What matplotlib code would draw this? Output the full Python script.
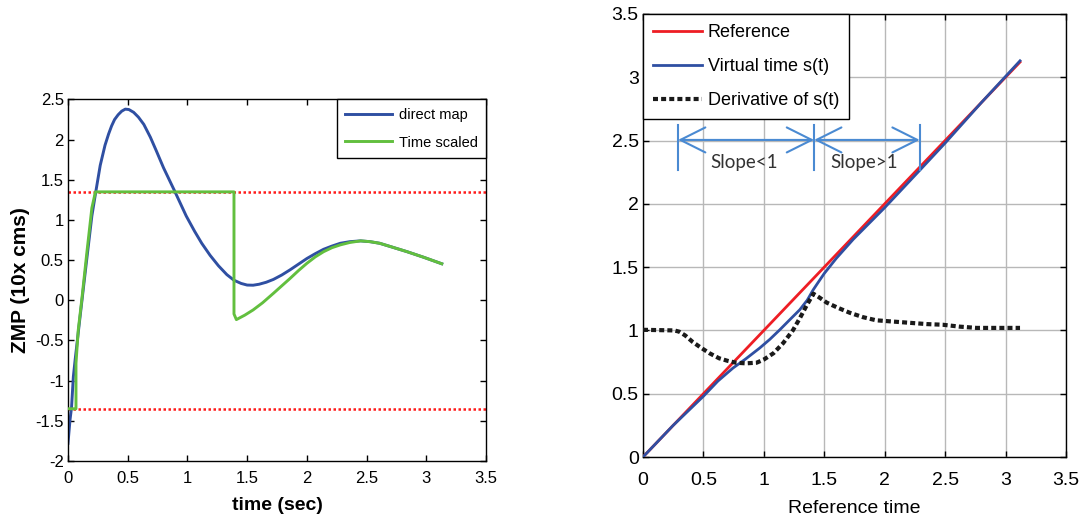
import matplotlib
matplotlib.use("Agg")
import matplotlib.pyplot as plt

# ---- datos panel izquierdo (ZMP) ----
t_direct = [0.0, 0.017, 0.03, 0.045, 0.06, 0.10, 0.15, 0.20, 0.235, 0.27, 0.31, 0.34,
            0.365, 0.39, 0.42, 0.45, 0.48, 0.51, 0.55, 0.59, 0.635, 0.69, 0.74, 0.80,
            0.89, 0.99, 1.06, 1.12, 1.19, 1.26, 1.33, 1.39, 1.45, 1.50, 1.55, 1.60,
            1.66, 1.72, 1.79, 1.86, 1.93, 2.00, 2.07, 2.14, 2.21, 2.28, 2.36, 2.45,
            2.53, 2.61, 2.72, 2.84, 2.98, 3.13]
zmp_direct = [-1.78, -1.49, -1.33, -0.95, -0.74, -0.22, 0.42, 1.05, 1.37, 1.68, 1.93, 2.07,
              2.17, 2.25, 2.31, 2.355, 2.38, 2.375, 2.34, 2.28, 2.19, 2.03, 1.86, 1.65,
              1.37, 1.05, 0.86, 0.71, 0.56, 0.43, 0.32, 0.25, 0.21, 0.19, 0.188, 0.20,
              0.225, 0.26, 0.315, 0.38, 0.45, 0.52, 0.58, 0.635, 0.675, 0.71, 0.73, 0.74,
              0.73, 0.71, 0.66, 0.605, 0.535, 0.455]

t_scaled = [0.0, 0.067, 0.067, 0.086, 0.115, 0.16, 0.20, 0.23, 1.39, 1.39, 1.41, 1.48,
            1.55, 1.63, 1.72, 1.79, 1.86, 1.93, 2.00, 2.07, 2.14, 2.21, 2.28, 2.36,
            2.45, 2.53, 2.61, 2.72, 2.84, 2.98, 3.13]
zmp_scaled = [-1.35, -1.35, -0.785, -0.37, 0.0, 0.62, 1.15, 1.35, 1.35, -0.17, -0.24, -0.185,
              -0.12, -0.03, 0.087, 0.18, 0.273, 0.37, 0.46, 0.54, 0.605, 0.655, 0.69, 0.72,
              0.74, 0.73, 0.71, 0.66, 0.605, 0.535, 0.455]

zmp_limits = [1.35, -1.35]

# ---- datos panel derecho (tiempo virtual) ----
t_ref = [0.0, 3.12]
s_ref = [0.0, 3.12]

t_virtual = [0.0, 0.25, 0.50, 0.62, 0.745, 0.85, 0.966, 1.05, 1.132, 1.21, 1.297, 1.36,
             1.408, 1.45, 1.50, 1.60, 1.74, 2.00, 2.29, 2.50, 2.80, 3.12]
s_virtual = [0.0, 0.25, 0.48, 0.60, 0.703, 0.775, 0.861, 0.93, 1.005, 1.08, 1.163, 1.24,
             1.32, 1.38, 1.45, 1.57, 1.72, 1.97, 2.265, 2.48, 2.80, 3.13]

t_deriv = [0.0, 0.26, 0.30, 0.35, 0.41, 0.47, 0.55, 0.63, 0.70, 0.77, 0.85, 0.94,
           1.00, 1.08, 1.16, 1.24, 1.30, 1.35, 1.41, 1.46, 1.52, 1.61, 1.71, 1.82,
           1.93, 2.07, 2.21, 2.35, 2.48, 2.62, 2.76, 3.12]
ds_deriv = [1.005, 1.0, 0.99, 0.96, 0.91, 0.87, 0.82, 0.78, 0.76, 0.745, 0.74, 0.745,
            0.77, 0.82, 0.90, 1.0, 1.10, 1.19, 1.29, 1.26, 1.22, 1.18, 1.14, 1.105,
            1.08, 1.07, 1.06, 1.05, 1.045, 1.03, 1.02, 1.02]

slope_marks = [0.29, 1.416, 2.29]
slope_labels = ["Slope<1", "Slope>1"]

ticks_05 = [0, 0.5, 1, 1.5, 2, 2.5, 3, 3.5]
tick_labels = ["0", "0.5", "1", "1.5", "2", "2.5", "3", "3.5"]
y_ticks_left = [-2, -1.5, -1, -0.5, 0, 0.5, 1, 1.5, 2, 2.5]
y_labels_left = ["-2", "-1.5", "-1", "-0.5", "0", "0.5", "1", "1.5", "2", "2.5"]

BLUE = "#2f4fa2"
GREEN = "#62bf3e"
RED = "#ee1d24"
ARROW = "#4a8ad2"

plt.rcParams["font.family"] = ["Liberation Sans", "DejaVu Sans"]

fig = plt.figure(figsize=(10.79, 5.22), dpi=100)

# ===== panel izquierdo =====
ax1 = fig.add_axes([0.0630, 0.1169, 0.3874, 0.6925])
for y in zmp_limits:
    ax1.axhline(y, color="#ff1a1a", lw=1.8, linestyle=(0, (1, 1)), zorder=1)
ax1.plot(t_direct, zmp_direct, color=BLUE, lw=2.1, label="direct map", zorder=2)
ax1.plot(t_scaled, zmp_scaled, color=GREEN, lw=2.1, label="Time scaled", zorder=3)

ax1.set_xlim(0, 3.5)
ax1.set_ylim(-2, 2.5)
ax1.set_xticks(ticks_05)
ax1.set_xticklabels(tick_labels)
ax1.set_yticks(y_ticks_left)
ax1.set_yticklabels(y_labels_left)
ax1.tick_params(direction="in", top=True, right=True, length=4, width=1,
                labelsize=12, pad=7)
ax1.tick_params(axis="y", pad=3)
for sp in ax1.spines.values():
    sp.set_linewidth(1.0)
ax1.set_xlabel("time (sec)", fontsize=14, fontweight="bold", labelpad=8)
ax1.set_ylabel("ZMP (10x cms)", fontsize=15, fontweight="bold", labelpad=4)

leg1 = ax1.legend(loc="upper right", borderaxespad=0, fancybox=False, framealpha=1,
                  edgecolor="black", fontsize=10.5, handlelength=3.2,
                  handletextpad=0.5, borderpad=0.56, labelspacing=0.95)
leg1.get_frame().set_linewidth(1.0)

# ===== panel derecho =====
ax2 = fig.add_axes([0.5959, 0.1245, 0.3920, 0.8487])
ax2.plot(t_ref, s_ref, color=RED, lw=2.0, label="Reference", zorder=3)
ax2.plot(t_virtual, s_virtual, color=BLUE, lw=2.0, label="Virtual time s(t)", zorder=3)
ax2.plot(t_deriv, ds_deriv, color="#1a1a1a", lw=3.0, linestyle=(0, (1.2, 0.75)),
         label="Derivative of s(t)", zorder=3)

ax2.set_xlim(0, 3.5)
ax2.set_ylim(0, 3.5)
ax2.set_xticks(ticks_05)
ax2.set_xticklabels(tick_labels)
ax2.set_yticks(ticks_05)
ax2.set_yticklabels(tick_labels)
ax2.grid(True, color="#b8b8b8", lw=1.0)
ax2.set_axisbelow(True)
ax2.tick_params(direction="in", top=True, right=True, length=4, width=1, pad=11,
                labelsize=14)
ax2.tick_params(axis="y", pad=3)
for sp in ax2.spines.values():
    sp.set_linewidth(1.0)
ax2.set_xlabel("Reference time", fontsize=14, labelpad=8)

# flechas de pendiente
y_arrow = 2.505
for x in slope_marks:
    ax2.plot([x, x], [2.268, 2.624], color=ARROW, lw=1.5, zorder=4)
for i in range(2):
    ax2.annotate("", xy=(slope_marks[i + 1], y_arrow), xytext=(slope_marks[i], y_arrow),
                 arrowprops=dict(arrowstyle="<->,head_length=0.9,head_width=0.45",
                                 color=ARROW, lw=1.5, mutation_scale=20,
                                 shrinkA=0, shrinkB=0), zorder=4)
    xm = (slope_marks[i] + slope_marks[i + 1]) / 2
    ax2.text(xm - 0.02, 2.33, slope_labels[i], ha="center", va="center", fontsize=13.5,
             family=["Lato", "DejaVu Sans"], color="#333333", zorder=4)

leg2 = ax2.legend(loc="upper left", borderaxespad=0, fancybox=False, framealpha=1,
                  edgecolor="black", fontsize=13,
                  handlelength=2.7, handletextpad=0.35, borderpad=0.55,
                  labelspacing=0.95)
leg2.get_frame().set_linewidth(1.0)

fig.savefig("out.png", dpi=100)
